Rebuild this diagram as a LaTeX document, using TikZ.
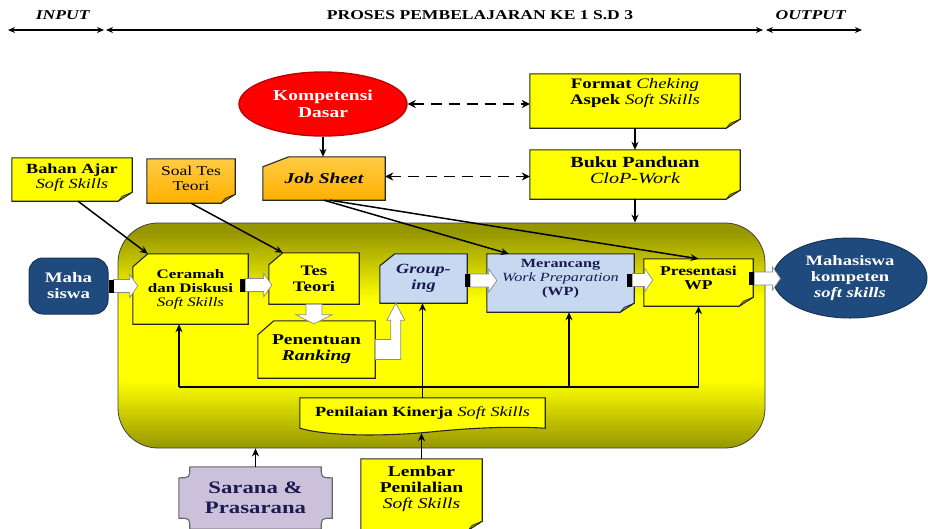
\documentclass[tikz,border=0pt]{standalone}
\usepackage{fontspec}
\setmainfont{Liberation Serif}[FakeStretch=1.3]
\usetikzlibrary{arrows.meta,calc,shapes.geometric}
\pgfdeclarelayer{back}\pgfdeclarelayer{mid}\pgfsetlayers{back,mid,main}
\definecolor{olv}{HTML}{969600}
\definecolor{yel}{HTML}{FFFF00}
\definecolor{org1}{HTML}{FFCC44}
\definecolor{org2}{HTML}{FFB000}
\definecolor{lblue}{HTML}{C6D9F1}
\definecolor{dblue}{HTML}{1F4A7E}
\definecolor{lav}{HTML}{CCC1DA}
\definecolor{kred}{HTML}{FF0000}
\definecolor{navy}{HTML}{1A1A50}
\pgfdeclareverticalshading{procshade}{100bp}{color(0bp)=(olv); color(25bp)=(olv); color(40bp)=(yel); color(58bp)=(yel); color(73bp)=(olv); color(100bp)=(olv)}
\newcommand\fs[2]{\fontsize{#1}{#2}\selectfont\bfseries}
\newcommand\ii[1]{{\mdseries\itshape #1}}
\newcommand\notebg[3]{%
\begin{pgfonlayer}{mid}
\draw[bline,#2] (#1.north west) -- (#1.north east) -- ([yshift=9pt]#1.south east) -- ([xshift=-14pt]#1.south east) -- (#1.south west) -- cycle;
\draw[bline,fill=#3,line width=0.6pt] ([yshift=9pt]#1.south east) -- ([xshift=-14pt]#1.south east) -- ([xshift=-10pt,yshift=5pt]#1.south east) -- cycle;
\end{pgfonlayer}}
\newcommand\chambg[4]{%
\begin{pgfonlayer}{mid}
\draw[bline,#2] ([xshift=#3]#1.north west) -- (#1.north east) -- (#1.south east) -- (#1.south west) -- ([yshift=-#4]#1.north west) -- cycle;
\end{pgfonlayer}}
\newcommand\hblock[2]{%
\draw[blk] let \p1=(#1),\p2=(#2) in (\x1+5pt,\y1+6.5pt) -- (\x2-8pt,\y1+6.5pt) -- (\x2-8pt,\y1+11.5pt) -- (\x2,\y1) -- (\x2-8pt,\y1-11.5pt) -- (\x2-8pt,\y1-6.5pt) -- (\x1+5pt,\y1-6.5pt) -- cycle;
\fill[black] let \p1=(#1) in (\x1,\y1-6.5pt) rectangle (\x1+5pt,\y1+6.5pt);}
\begin{document}
\begin{tikzpicture}[x=1pt,y=-1pt,
  bline/.style={draw=black!85,line width=1.1pt},
  yfill/.style={fill=yel},
  ofill/.style={top color=org1,bottom color=org2},
  bfill/.style={fill=lblue},
  txt/.style={inner sep=0pt,align=center,text=black},
  shp/.style={inner sep=0pt,draw=none},
  hdr/.style={inner sep=0pt,font=\fontsize{13.5}{15}\selectfont\bfseries},
  hdrarr/.style={line width=1.1pt,{Stealth[length=7pt,width=6pt]}-{Stealth[length=7pt,width=6pt]}},
  con/.style={line width=1.5pt,-{Stealth[length=8pt,width=7pt]}},
  dasharr/.style={line width=1.7pt,dash pattern=on 11pt off 7pt,{Stealth[length=8pt,width=8pt]}-{Stealth[length=8pt,width=8pt]}},
  fb/.style={line width=1.6pt},
  blk/.style={draw=black!45,fill=white,line width=0.7pt}]
\useasboundingbox (0,0) rectangle (928,528);
\clip (0,0) rectangle (928,528);
% header
\node[hdr] (tin) at (63,15) {\textit{INPUT}};
\node[hdr] (tpr) at (480,15) {PROSES PEMBELAJARAN KE 1 S.D 3};
\node[hdr] (tout) at (811,15) {\textit{OUTPUT}};
\coordinate (h0) at (8,30); \coordinate (h1) at (104,30);
\coordinate (h1b) at (106,30); \coordinate (h2) at (763,30);
\coordinate (h2b) at (766,30); \coordinate (h3) at (862,30);
\draw[hdrarr] (h0) -- (h1);
\draw[hdrarr] (h1b) -- (h2);
\draw[hdrarr] (h2b) -- (h3);
% process frame
\begin{pgfonlayer}{back}
\node[draw=black!75,line width=0.8pt,rounded corners=40pt,shade,shading=procshade,minimum width=647pt,minimum height=225pt,inner sep=0pt] (proc) at (441.5,335.5) {};
\end{pgfonlayer}
% top nodes
\node[ellipse,draw=kred!75!black,line width=1.4pt,fill=kred,minimum width=168pt,minimum height=64pt,inner sep=0pt,align=center,text=white,font=\fs{15}{17}] (kd) at (323,104) {Kompetensi\\Dasar};
\node[shp,minimum width=210pt,minimum height=54pt] (fmt) at (635,101) {};
\node[txt,font=\fs{14.5}{16}] (fmtT) at (635,93) {Format \ii{Cheking}\\Aspek \ii{Soft Skills}};
\node[shp,minimum width=210pt,minimum height=49pt] (buku) at (635,174.5) {};
\node[txt,font=\fs{15.5}{16}] (bukuT) at (635,170) {Buku Panduan\\\ii{CloP-Work}};
\node[shp,minimum width=122pt,minimum height=43pt,txt,font=\fs{15}{16}] (job) at (324,178.5) {\itshape Job Sheet};
\node[shp,minimum width=120pt,minimum height=43pt] (bahan) at (72,179.5) {};
\node[txt,font=\fs{14}{15}] (bahanT) at (72,178) {Bahan Ajar\\\ii{Soft Skills}};
\node[shp,minimum width=88pt,minimum height=44pt] (soal) at (191,181) {};
\node[txt,font=\fs{13.5}{14.5}] (soalT) at (191,178.5) {\mdseries Soal Tes\\\mdseries Teori};
% process nodes
\node[draw=dblue!70!black,line width=1pt,fill=dblue,rounded corners=14pt,minimum width=79pt,minimum height=56pt,inner sep=0pt,align=center,text=white,font=\fs{14.5}{16}] (maha) at (68.5,286) {Maha\\siswa};
\node[shp,txt,font=\fs{13}{14}, minimum width=115pt,minimum height=70pt] (ceramah) at (190.5,289) {Ceramah\\dan Diskusi\\\ii{Soft Skills}};
\node[shp,txt,minimum width=90pt,minimum height=51pt,font=\fs{14.5}{16}] (tes) at (314,278.5) {Tes\\Teori};
\node[shp,txt,minimum width=117pt,minimum height=57pt,font=\fs{15}{16}] (pen) at (316.5,349.5) {Penentuan\\\textit{Ranking}};
\node[shp,txt,minimum width=87pt,minimum height=49pt,text=navy,font=\fs{14}{16}] (grp) at (423.5,278.5) {\itshape Group-\\\itshape ing};
\node[shp,minimum width=147pt,minimum height=58pt] (mer) at (560.5,283) {};
\node[txt,font=\fs{12.5}{14}, text=navy] (merT) at (560.5,279) {Merancang\\\ii{Work Preparation}\\(WP)};
\node[shp,minimum width=109pt,minimum height=47pt] (pres) at (698.5,282.5) {};
\node[txt,font=\fs{13.5}{14}] (presT) at (698.5,278) {Presentasi\\WP};
\node[ellipse,draw=dblue!70!black,line width=1pt,fill=dblue,minimum width=154pt,minimum height=80pt,inner sep=0pt,align=center,text=white,font=\fs{14.3}{16}] (out) at (850,278) {Mahasiswa\\kompeten\\\textit{soft skills}};
\node[shp,txt,font=\fs{14}{15}, minimum width=245pt,minimum height=30pt] (pk) at (422.5,413) {Penilaian Kinerja \ii{Soft Skills}};
% bottom nodes
\node[shp,txt,minimum width=153pt,minimum height=62pt,text=navy,font=\fs{17.5}{20}] (sar) at (255.5,498) {Sarana \&\\Prasarana};
\node[shp,minimum width=121pt,minimum height=71pt] (lembar) at (421.5,494.5) {};
\node[txt,font=\fs{15}{16}] (lembarT) at (421.5,489) {Lembar\\Penilalian\\\ii{Soft Skills}};
% shapes
\notebg{fmt}{yfill}{olv}
\notebg{buku}{yfill}{olv}
\notebg{bahan}{yfill}{olv}
\notebg{soal}{ofill}{org2!70!black}
\notebg{mer}{bfill}{lblue!60!black}
\notebg{pres}{yfill}{olv}
\notebg{lembar}{yfill}{olv}
\chambg{job}{ofill}{26pt}{10pt}
\chambg{ceramah}{yfill}{15pt}{13pt}
\chambg{tes}{yfill}{14pt}{12pt}
\chambg{pen}{yfill}{16pt}{14pt}
\chambg{grp}{bfill}{15pt}{12pt}
\begin{pgfonlayer}{mid}
\draw[bline,fill=yel] (pk.north west) -- (pk.north east) -- (pk.south east) .. controls (510,426) and (470,428) .. (430,432) .. controls (390,436) and (330,437) .. (pk.south west) -- cycle;
\draw[bline,fill=lav,draw=black!60] ([xshift=11pt]sar.north west) -- ([xshift=-11pt]sar.north east) .. controls ([xshift=-11pt,yshift=-11pt]sar.north east) .. ([yshift=-11pt]sar.north east) -- ([yshift=11pt]sar.south east) .. controls ([xshift=-11pt,yshift=11pt]sar.south east) .. ([xshift=-11pt]sar.south east) -- ([xshift=11pt]sar.south west) .. controls ([xshift=11pt,yshift=11pt]sar.south west) .. ([yshift=11pt]sar.south west) -- ([yshift=-11pt]sar.north west) .. controls ([xshift=11pt,yshift=-11pt]sar.north west) .. ([xshift=11pt]sar.north west) -- cycle;
\end{pgfonlayer}
% connectors
\draw[dasharr] (kd.east) -- (kd.east -| fmt.west);
\draw[dasharr] ([yshift=2pt]job.east) -- ([yshift=2pt]job.east -| buku.west);
\draw[con] (kd.south) -- (kd.south |- job.north);
\draw[con] (fmt.south) -- (buku.north);
\draw[con] (buku.south) -- (buku.south |- proc.north);
\draw[con] ([xshift=6pt]bahan.south) -- ([xshift=15pt]ceramah.north west);
\draw[con] (soal.south) -- ([xshift=14pt]tes.north west);
\draw[con] (job.south) -- ([xshift=22pt]mer.north west);
\draw[con] ([xshift=6pt]job.south) -- (pres.north);
\draw[con] (pk.north) -- (pk.north |- grp.south);
\coordinate (fbL) at (179,387);
\coordinate (fbM) at (569,387);
\coordinate (fbR) at (698.5,387);
\draw[fb] (fbL) -- (fbR);
\draw[con] (fbL) -- (fbL |- ceramah.south);
\draw[con] (fbM) -- (fbM |- mer.south);
\draw[con] (fbR) -- (pres.south);
\draw[con] (sar.north) -- (sar.north |- proc.south);
\draw[con] (lembar.north) -- ($(lembar.north |- pk.south)+(0,5)$);
% block arrows
\hblock{maha.east}{[xshift=5pt]ceramah.west}
\hblock{[xshift=-8pt,yshift=4pt]ceramah.east}{[xshift=3pt]tes.west}
\hblock{[xshift=-2pt,yshift=-2pt]grp.east}{[xshift=10pt]mer.west}
\hblock{[xshift=-7pt,yshift=3pt]mer.east}{[xshift=9pt]pres.west}
\hblock{[xshift=-4pt,yshift=4pt]pres.east}{[xshift=8pt]out.west}
\draw[blk] let \p1=(tes.south), \p2=(pen.north) in (\x1-8pt,\y1) -- (\x1+8pt,\y1) -- (\x1+8pt,\y2+6pt) -- (\x1+18pt,\y2+6pt) -- (\x1,\y2-3pt) -- (\x1-18pt,\y2+6pt) -- (\x1-8pt,\y2+6pt) -- cycle;
\draw[blk] let \p1=(pen.east), \p2=(grp.south west) in (\x1,\y1+10pt) -- (\x2+11pt,\y1+10pt) -- (\x2+11pt,\y2-17pt) -- (\x2+7pt,\y2-17pt) -- (\x2+16pt,\y2) -- (\x2+25pt,\y2-17pt) -- (\x2+21pt,\y2-17pt) -- (\x2+21pt,\y1-10pt) -- (\x1,\y1-10pt) -- cycle;
\end{tikzpicture}
\end{document}
